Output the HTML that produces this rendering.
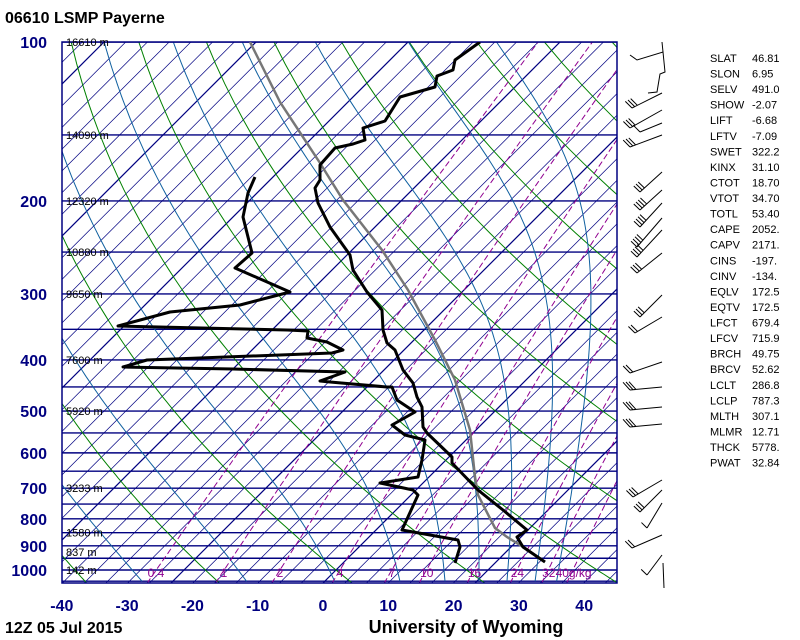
<!DOCTYPE html>
<html><head><meta charset="utf-8"><style>
html,body{margin:0;padding:0;background:#fff;width:800px;height:640px;overflow:hidden}
svg{display:block}
text{font-family:"Liberation Sans",sans-serif}
</style></head><body>
<svg id="s" width="800" height="640" viewBox="0 0 800 640" xmlns="http://www.w3.org/2000/svg">
<defs><clipPath id="c"><rect x="62" y="42" width="555" height="541"/></clipPath></defs>
<g id="bg" clip-path="url(#c)"></g>
<rect x="62" y="42" width="555" height="541" fill="none" stroke="#000080" stroke-width="1.5"/>
<g id="fg" clip-path="url(#c)">
<polyline fill="none" stroke="#777" stroke-width="2.5" points="250,42 280,102 320,163 343,200 382,250 408,290 435,340 455,380 470,430 475,477 478,495 495,528 507,537 525,548 545,562"/>
<polyline fill="none" stroke="#000" stroke-width="3" stroke-linejoin="round" points="480,42 455,60 453,70 437,76 435,87 400,97 385,121 363,128 365,140 353,144 335,148 320,165 320,180 315,188 318,203 330,227 350,255 353,270 367,292 382,310 383,330 387,343 395,350 403,370 413,383 417,397 422,407 423,427 427,433 452,457 452,463 478,490 503,510 527,530 517,537 523,547 545,562"/>
<polyline fill="none" stroke="#000" stroke-width="3" stroke-linejoin="round" points="255,177 248,193 243,217 252,253 235,268 290,292 240,305 170,312 118,326 287,330 308,331 307,338 327,342 343,350 332,353 147,360 123,367 233,369 345,372 320,381 330,382 387,387 392,387 397,400 415,412 392,425 405,435 425,440 422,460 418,477 380,483 413,490 418,495 402,530 458,540 460,547 455,563"/>
</g>
<g id="lab"></g>
<g id="barbs" stroke="#000" stroke-width="1" fill="none">
<polyline points="630,55 637,60 663,52 665,72 660,74 657,92 648,93"/>
<polyline points="663,52 662,42"/>
</g>
<text x="5" y="23" font-size="16" font-weight="bold">06610 LSMP Payerne</text>
<text x="5" y="633" font-size="16" font-weight="bold">12Z 05 Jul 2015</text>
<text x="466" y="633" font-size="18" font-weight="bold" text-anchor="middle">University of Wyoming</text>
<g id="stats" font-size="11"></g>
</svg>
<script>
var NS="http://www.w3.org/2000/svg";
function el(par,tag,at,txt){var e=document.createElementNS(NS,tag);for(var k in at)e.setAttribute(k,at[k]);if(txt!==undefined)e.textContent=txt;document.getElementById(par).appendChild(e);return e;}
function Y(p){return 42+528*Math.log10(p/100);}
function X(T,p){return 323+6.53*T+(583-Y(p));}
for(var p=100;p<=1050;p+=50){var y=Y(p);el('bg','line',{x1:62,x2:617,y1:y,y2:y,stroke:'#000080','stroke-width':1.4});}
var sp=152/7;
for(var k=-40;k<=30;k++){var x0=323+k*sp;var bold=(Math.abs(k)%7==0);
 el('bg','line',{x1:x0,y1:583,x2:x0+560,y2:23,stroke:'#000080','stroke-width':bold?1.2:0.7});}
for(var th=-40;th<=200;th+=20){var pts=[];for(var p=1060;p>=95;p-=10){var T=(th+273.15)*Math.pow(p/1000,0.286)-273.15;pts.push(X(T,p).toFixed(1)+','+Y(p).toFixed(1));}
 el('bg','polyline',{points:pts.join(' '),fill:'none',stroke:'#008000','stroke-width':1});}
function es(Tc){return 6.112*Math.exp(17.67*Tc/(Tc+243.5));}
var eps=0.622,Rd=287,cp=1005,Lv=2.5e6;
[-28,-12,1.5,11.5,18.4,23.6,27.9,32.2,35.5].forEach(function(T0){
 var T=T0+273.15,p=1050,pts=[X(T0,p).toFixed(1)+','+Y(p).toFixed(1)];
 var n=400,dl=Math.log(100/1050)/n;
 for(var i=0;i<n;i++){var e=es(T-273.15),rs=eps*e/(p-e);
  var d=(Rd*T+Lv*rs)/(cp+Lv*Lv*rs*eps/(Rd*T*T));T+=d*dl;p=p*Math.exp(dl);
  if(i%4==3)pts.push(X(T-273.15,p).toFixed(1)+','+Y(p).toFixed(1));}
 el('bg','polyline',{points:pts.join(' '),fill:'none',stroke:'#1060a0','stroke-width':1});});
function Tw(w,p){var e=w*p/(eps+w),l=Math.log(e/6.112);return 243.5*l/(17.67-l);}
[0.4,1,2,4,7,10,16,24,32,40].forEach(function(w){var pts=[];for(var p=1060;p>=95;p-=10){pts.push(X(Tw(w/1000,p),p).toFixed(1)+','+Y(p).toFixed(1));}
 el('bg','polyline',{points:pts.join(' '),fill:'none',stroke:'#900090','stroke-width':1,'stroke-dasharray':'6,3'});
 var lx=X(Tw(w/1000,1021),1021)+3;
 el('lab','text',{x:lx,y:577,'font-size':12,fill:'#900090','text-anchor':'middle'},w==40?'40g/kg':String(w));});
[100,200,300,400,500,600,700,800,900,1000].forEach(function(p){el('lab','text',{x:47,y:Y(p)+6,'font-size':16,'font-weight':'bold',fill:'#000080','text-anchor':'end'},String(p));});
[[16610,100],[14090,150],[12320,200],[10880,250],[9650,300],[7600,400],[5920,500],[3233,700],[1580,850],[837,925],[142,1000]].forEach(function(a){
 el('lab','text',{x:66,y:Y(a[1])+4,'font-size':11,fill:'#000'},a[0]+' m');});
for(var t=-40;t<=40;t+=10){el('lab','text',{x:323+6.53*t,y:611,'font-size':16,'font-weight':'bold',fill:'#000080','text-anchor':'middle'},String(t));}
var st=[["SLAT","46.81"],["SLON","6.95"],["SELV","491.0"],["SHOW","-2.07"],["LIFT","-6.68"],["LFTV","-7.09"],["SWET","322.2"],["KINX","31.10"],["CTOT","18.70"],["VTOT","34.70"],["TOTL","53.40"],["CAPE","2052."],["CAPV","2171."],["CINS","-197."],["CINV","-134."],["EQLV","172.5"],["EQTV","172.5"],["LFCT","679.4"],["LFCV","715.9"],["BRCH","49.75"],["BRCV","52.62"],["LCLT","286.8"],["LCLP","787.3"],["MLTH","307.1"],["MLMR","12.71"],["THCK","5778."],["PWAT","32.84"]];
st.forEach(function(r,i){var y=62+i*15.56;el('stats','text',{x:710,y:y},r[0]);el('stats','text',{x:752,y:y},r[1]);});
function barb(tx,ty,hx,hy,n){el('barbs','line',{x1:tx,y1:ty,x2:hx,y2:hy});
 var dx=hx-tx,dy=hy-ty,L=Math.hypot(dx,dy),ux=dx/L,uy=dy/L;
 for(var i=0;i<n;i++){var bx=tx+ux*i*3,by=ty+uy*i*3;el('barbs','line',{x1:bx,y1:by,x2:bx-ux*3-4,y2:by-uy*3-8});}}
[[632,108,662,93,3],[630,128,662,110,3],[640,132,662,123,1],[630,147,662,135,3],[640,192,662,172,3],[640,210,662,190,4],[640,227,662,203,4],[637,247,662,218,4],[637,257,662,230,4],[637,273,662,253,3],[640,317,662,295,3],[635,333,662,317,2],[630,373,662,362,2],[630,390,662,387,3],[630,410,662,407,3],[630,427,662,424,3],[633,497,662,480,3],[640,512,662,490,3],[647,528,662,503,1],[632,548,662,535,2],[647,575,662,555,1]].forEach(function(b){barb(b[0],b[1],b[2],b[3],b[4]);});
el('barbs','line',{x1:663,y1:563,x2:664,y2:588});
</script>
</body></html>
